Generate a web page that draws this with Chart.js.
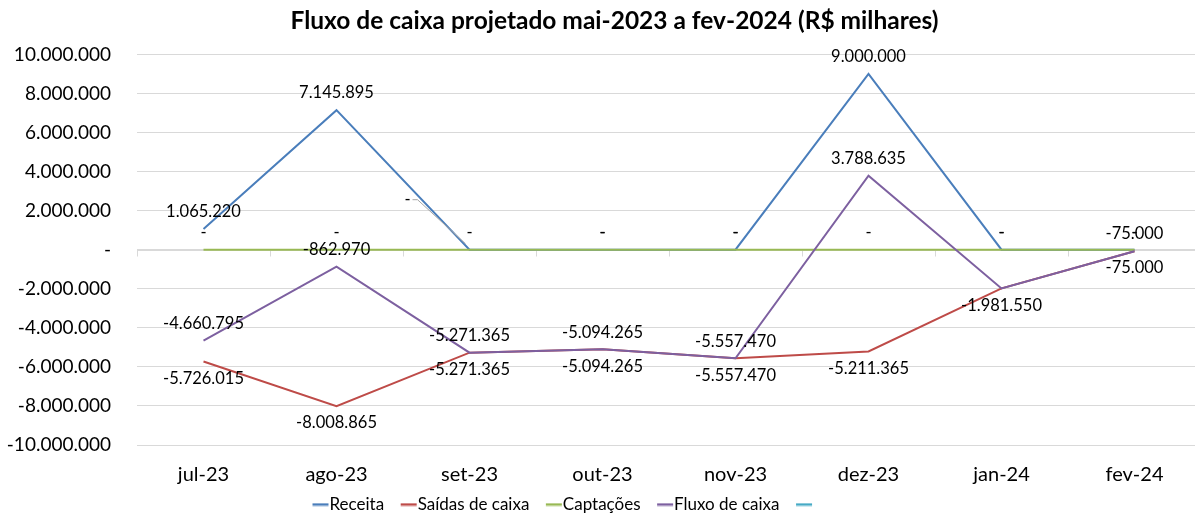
<!DOCTYPE html>
<html lang="pt-BR">
<head>
  <meta charset="UTF-8">
  <title>Fluxo de caixa projetado</title>
  <script src="https://cdn.jsdelivr.net/npm/chart.js"></script>
  <style>
    html, body {
      margin: 0;
      padding: 0;
      background: #fff;
      overflow: hidden;
    }
    .chart-box {
      width: 1230px;
      height: 518px;
    }
  </style>
</head>
<body>
  <div class="chart-box">
    <canvas id="fluxoChart" width="1230" height="518"></canvas>
  </div>

  <script>
    // Meses do período
    const meses = ['jul-23', 'ago-23', 'set-23', 'out-23', 'nov-23', 'dez-23', 'jan-24', 'fev-24'];

    // Séries (R$ milhares)
    const receita    = [1065220, 7145895, 0, 0, 0, 9000000, 0, 0];
    const saidas     = [-5726015, -8008865, -5271365, -5094265, -5557470, -5211365, -1981550, -75000];
    const captacoes  = [0, 0, 0, 0, 0, 0, 0, 0];
    const fluxo      = [-4660795, -862970, -5271365, -5094265, -5557470, 3788635, -1981550, -75000];
    const semNome    = [null, null, null, null, null, null, null, null];

    // Eixo Y
    const yMin = -10000000, yMax = 10000000, yPasso = 2000000;

    const cores = ['#4A7EBB', '#BE4B48', '#98B954', '#7D60A0', '#46AAC5'];
    const fonte = 'Lato, "Open Sans", sans-serif';

    // Formato contábil: milhar com ponto, zero vira "-"
    function fmt(v) {
      if (v === 0) return '-';
      const s = Math.abs(v).toString().replace(/\B(?=(\d{3})+(?!\d))/g, '.');
      return (v < 0 ? '-' : '') + s;
    }

    // Traço curto usado no lugar do quadrado da legenda
    // (deslocado para a direita, encostado no texto)
    function tracoLegenda(cor) {
      const c = document.createElement('canvas');
      c.width = 38;
      c.height = 4;
      const g = c.getContext('2d');
      g.strokeStyle = cor;
      g.lineWidth = 2.5;
      g.beginPath();
      g.moveTo(21, 2);
      g.lineTo(37, 2);
      g.stroke();
      return c;
    }

    // Rótulos de dados: posição acima/abaixo, índices omitidos e rótulos deslocados
    const rotulos = {
      0: { lado: -1, deslocados: { 2: { dx: -62, dy: -33 } } },
      1: { lado: 1 },
      2: { lado: -1 },
      3: { lado: -1, omitir: [6] }
    };

    const rotulosPlugin = {
      id: 'rotulos',
      afterDatasetsDraw(chart) {
        const ctx = chart.ctx;
        ctx.save();
        ctx.font = '16.5px ' + fonte;
        ctx.fillStyle = '#000';
        ctx.textAlign = 'center';
        ctx.textBaseline = 'middle';
        Object.keys(rotulos).forEach(k => {
          const cfg = rotulos[k];
          const ds = chart.data.datasets[k];
          const meta = chart.getDatasetMeta(k);
          meta.data.forEach((pt, i) => {
            if (cfg.omitir && cfg.omitir.includes(i)) return;
            const v = ds.data[i];
            if (v === null) return;
            let x = pt.x;
            let y = pt.y + cfg.lado * 17;
            const mov = cfg.deslocados && cfg.deslocados[i];
            if (mov) {
              x += mov.dx;
              y += mov.dy;
              // linha de chamada até o ponto
              ctx.strokeStyle = '#A6A6A6';
              ctx.lineWidth = 1;
              ctx.beginPath();
              ctx.moveTo(x + 5, y);
              ctx.lineTo(x + 10, y);
              ctx.lineTo(pt.x - 4, pt.y - 6);
              ctx.stroke();
            }
            ctx.fillText(fmt(v), x, y);
          });
        });
        ctx.restore();
      }
    };

    // Linha do eixo horizontal em zero com marcas entre as categorias
    const eixoZeroPlugin = {
      id: 'eixoZero',
      beforeDatasetsDraw(chart) {
        const ctx = chart.ctx;
        const x = chart.scales.x;
        const y0 = Math.round(chart.scales.y.getPixelForValue(0)) + 0.5;
        const meio = (x.getPixelForValue(1) - x.getPixelForValue(0)) / 2;
        ctx.save();
        ctx.strokeStyle = '#D9D9D9';
        ctx.lineWidth = 1;
        ctx.beginPath();
        ctx.moveTo(chart.chartArea.left, y0);
        ctx.lineTo(chart.chartArea.right, y0);
        for (let i = 0; i <= meses.length; i++) {
          const px = Math.round(x.getPixelForValue(0) - meio + i * meio * 2) + 0.5;
          ctx.moveTo(px, y0);
          ctx.lineTo(px, y0 + 6);
        }
        ctx.stroke();
        ctx.restore();
      }
    };

    // Ajuste fino de título e legenda
    const posicaoPlugin = {
      id: 'posicao',
      afterLayout(chart) {
        const lg = chart.legend;
        lg.left -= 44; lg.right -= 44;
        lg.top += 5; lg.bottom += 5;
        const tt = chart.titleBlock;
        tt.left += 14; tt.right += 14;
      }
    };

    const serie = (label, data, cor, ordem) => ({
      label: label,
      data: data,
      borderColor: cor,
      backgroundColor: cor,
      borderWidth: 2,
      pointRadius: 0,
      pointHoverRadius: 0,
      tension: 0,
      fill: false,
      order: ordem
    });

    const ctx = document.getElementById('fluxoChart').getContext('2d');
    const chart = new Chart(ctx, {
      type: 'line',
      data: {
        labels: meses,
        datasets: [
          serie('Receita', receita, cores[0], 5),
          serie('Saídas de caixa', saidas, cores[1], 4),
          serie('Captações', captacoes, cores[2], 3),
          serie('Fluxo de caixa', fluxo, cores[3], 2),
          serie('', semNome, cores[4], 1)
        ]
      },
      options: {
        responsive: false,
        animation: false,
        layout: { padding: { left: 0, right: 29, top: 0, bottom: 0 } },
        scales: {
          x: {
            offset: true,
            grid: { display: false, drawTicks: false },
            border: { display: false },
            ticks: {
              color: '#000',
              font: { family: fonte, size: 20 },
              padding: 18,
              maxRotation: 0
            },
            afterFit(scale) { scale.height = 42; }
          },
          y: {
            min: yMin,
            max: yMax,
            ticks: {
              stepSize: yPasso,
              color: '#000',
              font: { family: fonte, size: 19 },
              padding: 26,
              callback: v => fmt(v)
            },
            grid: { color: '#D9D9D9', lineWidth: 1, drawTicks: false },
            border: { display: false },
            afterFit(scale) { scale.width = 137; }
          }
        },
        plugins: {
          title: {
            display: true,
            text: 'Fluxo de caixa projetado mai-2023 a fev-2024 (R$ milhares)',
            color: '#000',
            font: { family: fonte, size: 24.5, weight: 'bold' },
            padding: { top: 6, bottom: 19 }
          },
          legend: {
            position: 'bottom',
            labels: {
              color: '#000',
              font: { family: fonte, size: 17 },
              usePointStyle: true,
              pointStyleWidth: 21,
              padding: 4,
              sort: (a, b) => a.datasetIndex - b.datasetIndex,
              generateLabels(c) {
                const itens = Chart.defaults.plugins.legend.labels.generateLabels(c);
                return itens.map(it => Object.assign(it, { pointStyle: tracoLegenda(cores[it.datasetIndex]) }));
              }
            }
          },
          tooltip: { enabled: false }
        }
      },
      plugins: [eixoZeroPlugin, rotulosPlugin, posicaoPlugin]
    });
  </script>
</body>
</html>
